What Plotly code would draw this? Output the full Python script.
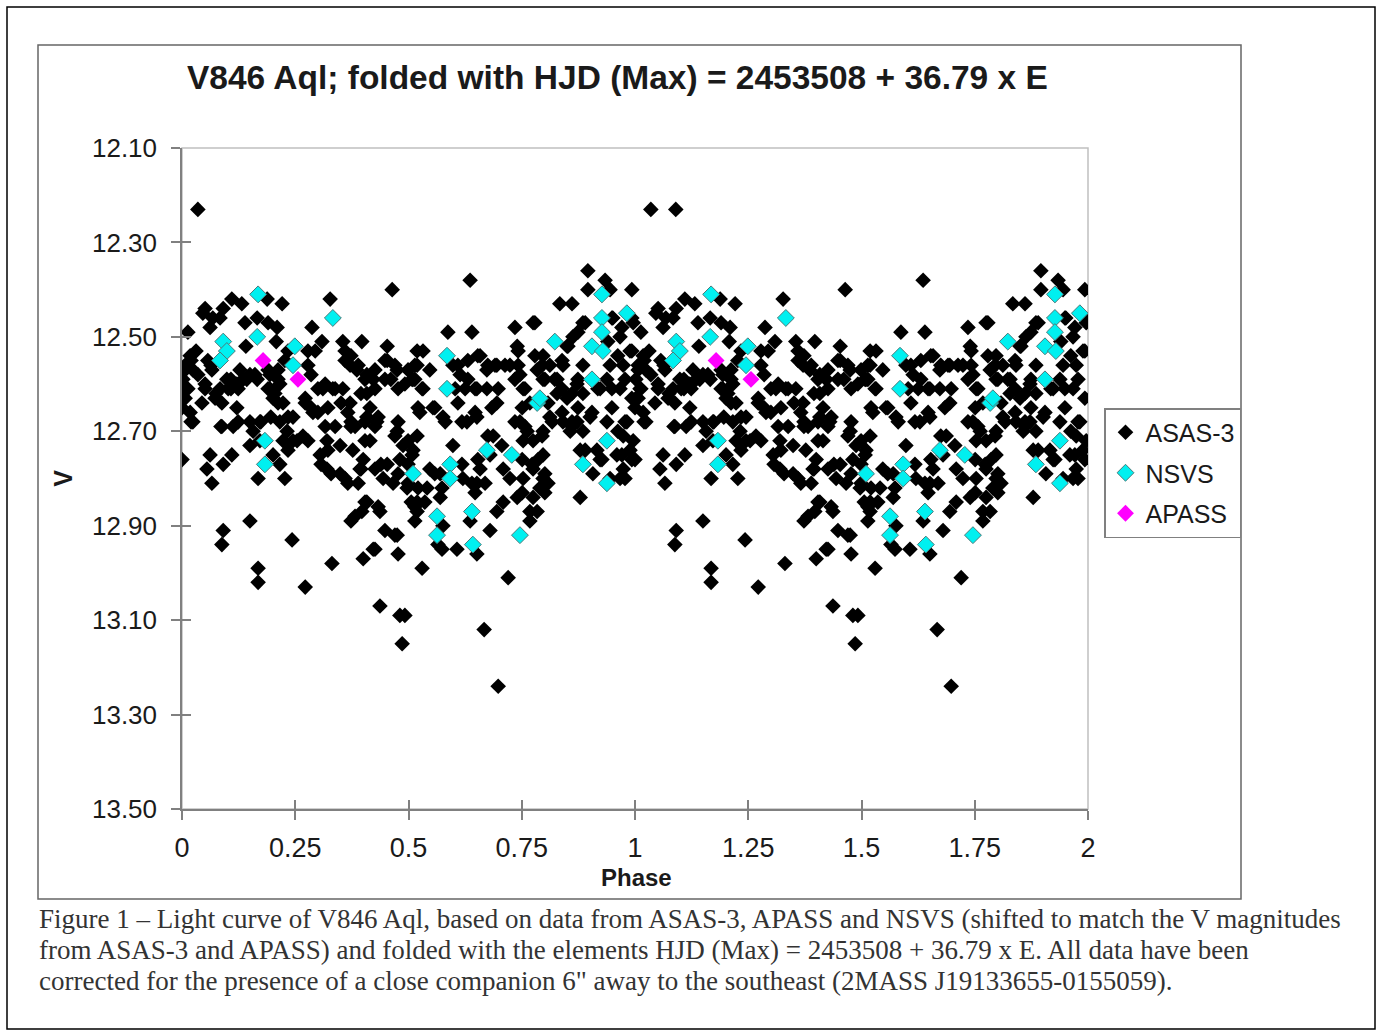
import plotly.graph_objects as go

# ---------------- data (phase 0-1, plotted over two cycles) ----------------
asas_phase = [
 0.035,0.110,0.132,0.188,0.221,0.051,0.046,0.068,0.091,0.084,0.062,0.139,0.166,0.190,0.210,0.013,
 0.208,0.141,0.018,0.007,0.024,0.057,0.051,0.011,0.002,0.000,0.018,0.024,0.044,0.088,0.121,0.124,
 0.143,0.166,0.194,0.216,0.194,0.201,0.223,0.099,0.102,0.084,0.121,0.088,0.113,0.150,0.172,0.157,
 0.172,0.216,0.234,0.232,0.245,0.223,0.150,0.000,0.062,0.055,0.091,0.110,0.201,0.216,0.168,0.227,
 0.066,0.150,0.091,0.088,0.243,0.168,0.168,0.066,0.128,0.150,0.035,0.075,
 0.464,0.327,0.287,0.309,0.294,0.355,0.397,0.453,0.453,0.475,0.519,0.272,0.245,0.289,0.311,0.333,
 0.355,0.371,0.366,0.360,0.371,0.386,0.408,0.422,0.408,0.415,0.430,0.408,0.382,0.492,0.514,0.254,
 0.267,0.320,0.305,0.320,0.349,0.377,0.415,0.349,0.366,0.393,0.400,0.426,0.453,0.444,0.466,0.475,
 0.488,0.510,0.481,0.497,0.514,0.514,0.408,0.397,0.382,0.437,0.448,0.475,0.477,0.422,0.400,0.331,
 0.272,0.437,0.481,0.492,0.486,0.667,0.698,0.720,0.530,
 0.636,0.587,0.640,0.735,0.775,0.532,0.547,0.519,0.510,0.532,0.598,0.614,0.625,0.651,0.658,0.673,
 0.695,0.724,0.740,0.746,0.753,0.768,0.673,0.695,0.525,0.554,0.576,0.629,0.651,0.746,0.762,0.775,
 0.753,0.687,0.680,0.598,0.519,0.508,0.547,0.570,0.620,0.658,0.651,0.709,0.724,0.753,0.541,0.519,
 0.570,0.519,0.576,0.636,0.680,0.695,0.709,0.740,0.768,0.768,0.574,0.607,0.651,
 0.896,0.934,0.896,0.945,0.993,0.834,0.861,0.779,0.885,0.951,0.967,0.996,0.863,0.850,0.797,0.784,
 0.812,0.841,0.885,0.945,0.974,0.989,0.797,0.828,0.872,0.938,0.967,0.828,0.850,0.885,0.923,0.812,
 0.841,0.872,0.901,0.885,0.938,0.982,0.797,0.797,0.775,0.797,0.790,0.775,0.784,0.879,0.907,0.923,
 0.960,0.974,0.989,0.996,0.974,0.967,0.945,0.916,0.879,0.857,
 # further points
 0.031,0.020,0.007,0.002,0.013,0.007,0.020,0.064,0.051,0.073,0.108,0.108,0.135,0.161,0.190,0.212,
 0.212,0.190,0.205,0.212,0.227,0.234,0.278,0.285,0.300,0.316,0.338,0.272,0.285,0.300,0.322,0.351,
 0.395,0.404,0.426,0.448,0.461,0.477,0.470,0.448,0.499,0.373,0.389,0.426,0.360,0.278,0.316,0.373,
 0.404,0.433,0.477,0.086,0.124,0.174,0.196,
 0.514,0.508,0.530,0.521,0.558,0.609,0.631,0.653,0.675,0.691,0.713,0.742,0.742,0.735,0.757,0.779,
 0.795,0.801,0.823,0.839,0.852,0.874,0.890,0.949,0.971,0.993,0.940,0.962,0.993,0.978,0.949,0.918,
 0.874,0.861,0.839,0.808,0.839,0.874,0.905,0.949,0.993,0.751,0.698,0.684,0.647,0.631,0.603,0.609,
 0.647,0.581,0.618,0.735,0.817,0.861,0.978,
 0.278,0.234,0.322,0.307,0.329,0.360,0.389,0.395,0.404,0.338,0.373,0.426,0.470,0.499,0.439,0.477,
 0.499,0.506,0.404,0.373,0.433,0.470,0.426,
 0.499,0.521,0.536,0.574,0.558,0.618,0.640,0.647,0.669,0.653,0.675,0.706,0.751,0.773,0.786,0.751,
 0.565,0.757,0.795,0.801,0.808,0.801,0.861,0.890,0.927,0.971,0.993,0.978,0.962,
]
asas_v = [
 12.23,12.42,12.43,12.42,12.43,12.44,12.45,12.46,12.44,12.46,12.48,12.47,12.46,12.47,12.48,12.49,
 12.51,12.52,12.54,12.56,12.57,12.55,12.60,12.61,12.63,12.65,12.66,12.68,12.64,12.64,12.65,12.61,
 12.59,12.59,12.58,12.60,12.61,12.63,12.64,12.59,12.61,12.61,12.60,12.69,12.69,12.68,12.68,12.70,
 12.72,12.68,12.67,12.70,12.72,12.72,12.73,12.76,12.75,12.78,12.77,12.75,12.75,12.77,12.80,12.80,
 12.81,12.89,12.91,12.94,12.93,12.99,13.02,12.57,12.57,12.58,12.58,12.62,
 12.40,12.42,12.48,12.51,12.53,12.51,12.51,12.52,12.55,12.57,12.53,12.64,12.67,12.66,12.61,12.61,
 12.61,12.64,12.66,12.55,12.56,12.57,12.58,12.59,12.62,12.65,12.68,12.67,12.69,12.60,12.59,12.72,
 12.71,12.72,12.75,12.78,12.73,12.74,12.72,12.79,12.81,12.78,12.76,12.78,12.77,12.80,12.81,12.70,
 12.73,12.74,12.76,12.82,12.86,12.89,12.85,12.87,12.88,12.87,12.91,12.92,12.96,12.95,12.97,12.98,
 13.03,13.07,13.09,13.09,13.15,13.12,13.24,13.01,12.99,
 12.38,12.49,12.49,12.48,12.47,12.53,12.57,12.56,12.59,12.61,12.56,12.58,12.61,12.61,12.54,12.57,
 12.56,12.56,12.52,12.58,12.61,12.64,12.61,12.64,12.66,12.65,12.67,12.68,12.67,12.68,12.70,12.72,
 12.72,12.71,12.75,12.73,12.71,12.75,12.78,12.79,12.80,12.78,12.81,12.78,12.80,12.80,12.82,12.85,
 12.84,12.87,12.90,12.89,12.91,12.87,12.85,12.84,12.87,12.89,12.95,12.95,12.96,
 12.36,12.38,12.40,12.40,12.40,12.43,12.43,12.47,12.47,12.46,12.50,12.47,12.50,12.52,12.54,12.57,
 12.56,12.56,12.56,12.56,12.56,12.53,12.59,12.59,12.60,12.59,12.61,12.62,12.63,12.62,12.61,12.67,
 12.68,12.68,12.67,12.70,12.68,12.68,12.70,12.75,12.78,12.80,12.82,12.84,12.87,12.84,12.79,12.76,
 12.75,12.78,12.74,12.72,12.71,12.80,12.80,12.74,12.74,12.70,
 # further points
 12.53,12.55,12.57,12.59,12.61,12.63,12.68,12.56,12.61,12.63,12.59,12.61,12.59,12.58,12.57,12.57,
 12.59,12.61,12.62,12.64,12.55,12.53,12.56,12.58,12.61,12.60,12.61,12.63,12.65,12.66,12.65,12.64,
 12.62,12.59,12.61,12.59,12.59,12.61,12.56,12.55,12.57,12.54,12.56,12.57,12.53,12.53,12.69,12.68,
 12.68,12.67,12.68,12.69,12.68,12.68,12.67,
 12.56,12.59,12.61,12.65,12.65,12.56,12.55,12.54,12.56,12.56,12.56,12.53,12.56,12.59,12.61,12.54,
 12.56,12.59,12.59,12.55,12.52,12.49,12.47,12.46,12.48,12.46,12.51,12.54,12.53,12.59,12.61,12.61,
 12.59,12.62,12.61,12.64,12.66,12.65,12.66,12.65,12.63,12.65,12.61,12.65,12.61,12.59,12.61,12.64,
 12.66,12.68,12.68,12.68,12.68,12.68,12.68,
 12.72,12.74,12.74,12.77,12.79,12.80,12.81,12.78,12.72,12.69,12.69,12.69,12.71,12.72,12.77,12.79,
 12.81,12.85,12.85,12.89,12.86,12.92,12.95,
 12.77,12.82,12.85,12.82,12.79,12.77,12.81,12.83,12.81,12.76,12.71,12.73,12.76,12.77,12.76,12.83,
 12.94,12.69,12.71,12.79,12.81,12.83,12.69,12.74,12.76,12.75,12.76,12.80,12.70,
]
# ASAS-3 points seen only in the second plotted cycle
asas_extra_phase = [1.090]
asas_extra_v = [12.23]

nsvs_phase = [0.168,0.166,0.091,0.099,0.084,0.249,0.245,0.183,0.183,0.333,0.510,0.585,0.585,0.784,
              0.673,0.728,0.592,0.592,0.563,0.640,0.563,0.642,0.746,0.927,0.982,0.927,0.927,0.823,
              0.905,0.929,0.905,0.790,0.938,0.885,0.938]
nsvs_v = [12.41,12.50,12.51,12.53,12.55,12.52,12.56,12.72,12.77,12.46,12.79,12.54,12.61,12.64,
          12.74,12.75,12.77,12.80,12.88,12.87,12.92,12.94,12.92,12.41,12.45,12.46,12.49,12.51,
          12.52,12.53,12.59,12.63,12.72,12.77,12.81]

apass_phase = [0.179, 0.256]
apass_v = [12.55, 12.59]

x_tick_vals = [0, 0.25, 0.5, 0.75, 1, 1.25, 1.5, 1.75, 2]
x_tick_text = ["0", "0.25", "0.5", "0.75", "1", "1.25", "1.5", "1.75", "2"]
y_tick_vals = [12.10, 12.30, 12.50, 12.70, 12.90, 13.10, 13.30, 13.50]

title_text = "V846 Aql; folded with HJD (Max) = 2453508 + 36.79 x E"
x_title = "Phase"
y_title = "V"
caption_lines = [
    "Figure 1 \u2013 Light curve of V846 Aql, based on data from ASAS-3, APASS and NSVS (shifted to match the V magnitudes",
    "from ASAS-3 and APASS) and folded with the elements HJD (Max) = 2453508 + 36.79 x E. All data have been",
    "corrected for the presence of a close companion 6\" away to the southeast (2MASS J19133655-0155059).",
]


def two_cycles(ph, v):
    return list(ph) + [p + 1 for p in ph], list(v) + list(v)


ax, ay = two_cycles(asas_phase, asas_v)
ax += asas_extra_phase
ay += asas_extra_v
nx, ny = two_cycles(nsvs_phase, nsvs_v)
px, py = two_cycles(apass_phase, apass_v)

W, H = 1382, 1033
L, R, T, B = 182, 1088, 148, 809

TXT = "#1a1a1a"
AXC = "#808080"
font_main = "Liberation Sans, Arial, sans-serif"

fig = go.Figure()
fig.add_trace(go.Scatter(x=ax, y=ay, mode="markers", name="ASAS-3", legendgroup="a",
                         marker=dict(symbol="diamond", size=12, color="black",
                                     line=dict(width=0))))
fig.add_trace(go.Scatter(x=nx, y=ny, mode="markers", name="NSVS", legendgroup="n",
                         marker=dict(symbol="diamond", size=13, color="#00f0f0",
                                     line=dict(width=1, color="#4a7a7a"))))
fig.add_trace(go.Scatter(x=px, y=py, mode="markers", name="APASS", legendgroup="p",
                         marker=dict(symbol="diamond", size=13, color="#ff00ff",
                                     line=dict(width=0))))
# empty trace to carry the crossing (inside) half of the ticks
fig.add_trace(go.Scatter(x=[], y=[], xaxis="x2", yaxis="y2", showlegend=False))


def px2paper_x(p):
    return (p - L) / (R - L)


def px2paper_y(p):
    return (B - p) / (B - T)


shapes = [
    # outer page frame
    dict(type="rect", xref="paper", yref="paper", x0=px2paper_x(7), x1=px2paper_x(1375),
         y0=px2paper_y(1029), y1=px2paper_y(7), line=dict(color="black", width=1.5), layer="below"),
    # chart frame
    dict(type="rect", xref="paper", yref="paper", x0=px2paper_x(38), x1=px2paper_x(1241),
         y0=px2paper_y(899), y1=px2paper_y(45), line=dict(color="#666666", width=1.5), layer="below"),
    # plot area border
    dict(type="rect", xref="paper", yref="paper", x0=0, x1=1, y0=0, y1=1,
         line=dict(color="#c0c0c0", width=1.5), layer="below"),
]

annotations = [
    dict(text="<b>" + title_text + "</b>", xref="paper", yref="paper",
         x=px2paper_x(617), y=px2paper_y(77), xanchor="center", yanchor="middle",
         showarrow=False, font=dict(family=font_main, size=33.5, color=TXT)),
    dict(text="<b>" + x_title + "</b>", xref="paper", yref="paper",
         x=px2paper_x(636), y=px2paper_y(877), xanchor="center", yanchor="middle",
         showarrow=False, font=dict(family=font_main, size=24, color=TXT)),
]
for i, line in enumerate(caption_lines):
    annotations.append(dict(text=line, xref="paper", yref="paper",
                            x=px2paper_x(37), y=px2paper_y(919 + 31 * i),
                            xanchor="left", yanchor="middle", showarrow=False,
                            font=dict(family="Liberation Serif, Times New Roman, serif",
                                      size=27, color="#333333")))

fig.update_layout(
    width=W, height=H, autosize=False,
    margin=dict(l=L, r=W - R, t=T, b=H - B, pad=0),
    paper_bgcolor="white", plot_bgcolor="white",
    showlegend=True,
    legend=dict(x=px2paper_x(1104), y=px2paper_y(408), xanchor="left", yanchor="top",
                bordercolor="#808080", borderwidth=1.5, bgcolor="white",
                font=dict(family=font_main, size=25, color=TXT),
                itemwidth=30, tracegroupgap=5),
    xaxis=dict(range=[0, 2], tickvals=x_tick_vals, ticktext=x_tick_text,
               showgrid=False, zeroline=False, showline=True, linecolor=AXC, linewidth=1.5,
               ticks="outside", ticklen=9, tickwidth=1.5, tickcolor=AXC,
               ticklabelstandoff=5,
               tickfont=dict(family=font_main, size=27, color=TXT)),
    yaxis=dict(range=[13.5, 12.1], tickvals=y_tick_vals, tickformat=".2f",
               showgrid=False, zeroline=False, showline=True, linecolor=AXC, linewidth=1.5,
               ticks="outside", ticklen=9, tickwidth=1.5, tickcolor=AXC,
               ticklabelstandoff=9,
               tickfont=dict(family=font_main, size=26, color=TXT),
               title=dict(text="<b>" + y_title + "</b>", standoff=12,
                          font=dict(family=font_main, size=25, color=TXT))),
    xaxis2=dict(range=[0, 2], tickvals=x_tick_vals, overlaying="x", showticklabels=False,
                showgrid=False, zeroline=False, showline=False,
                ticks="inside", ticklen=9, tickwidth=1.5, tickcolor=AXC),
    yaxis2=dict(range=[13.5, 12.1], tickvals=y_tick_vals, overlaying="y", showticklabels=False,
                showgrid=False, zeroline=False, showline=False,
                ticks="inside", ticklen=9, tickwidth=1.5, tickcolor=AXC),
    shapes=shapes,
    annotations=annotations,
)

fig.write_html("out.html")
